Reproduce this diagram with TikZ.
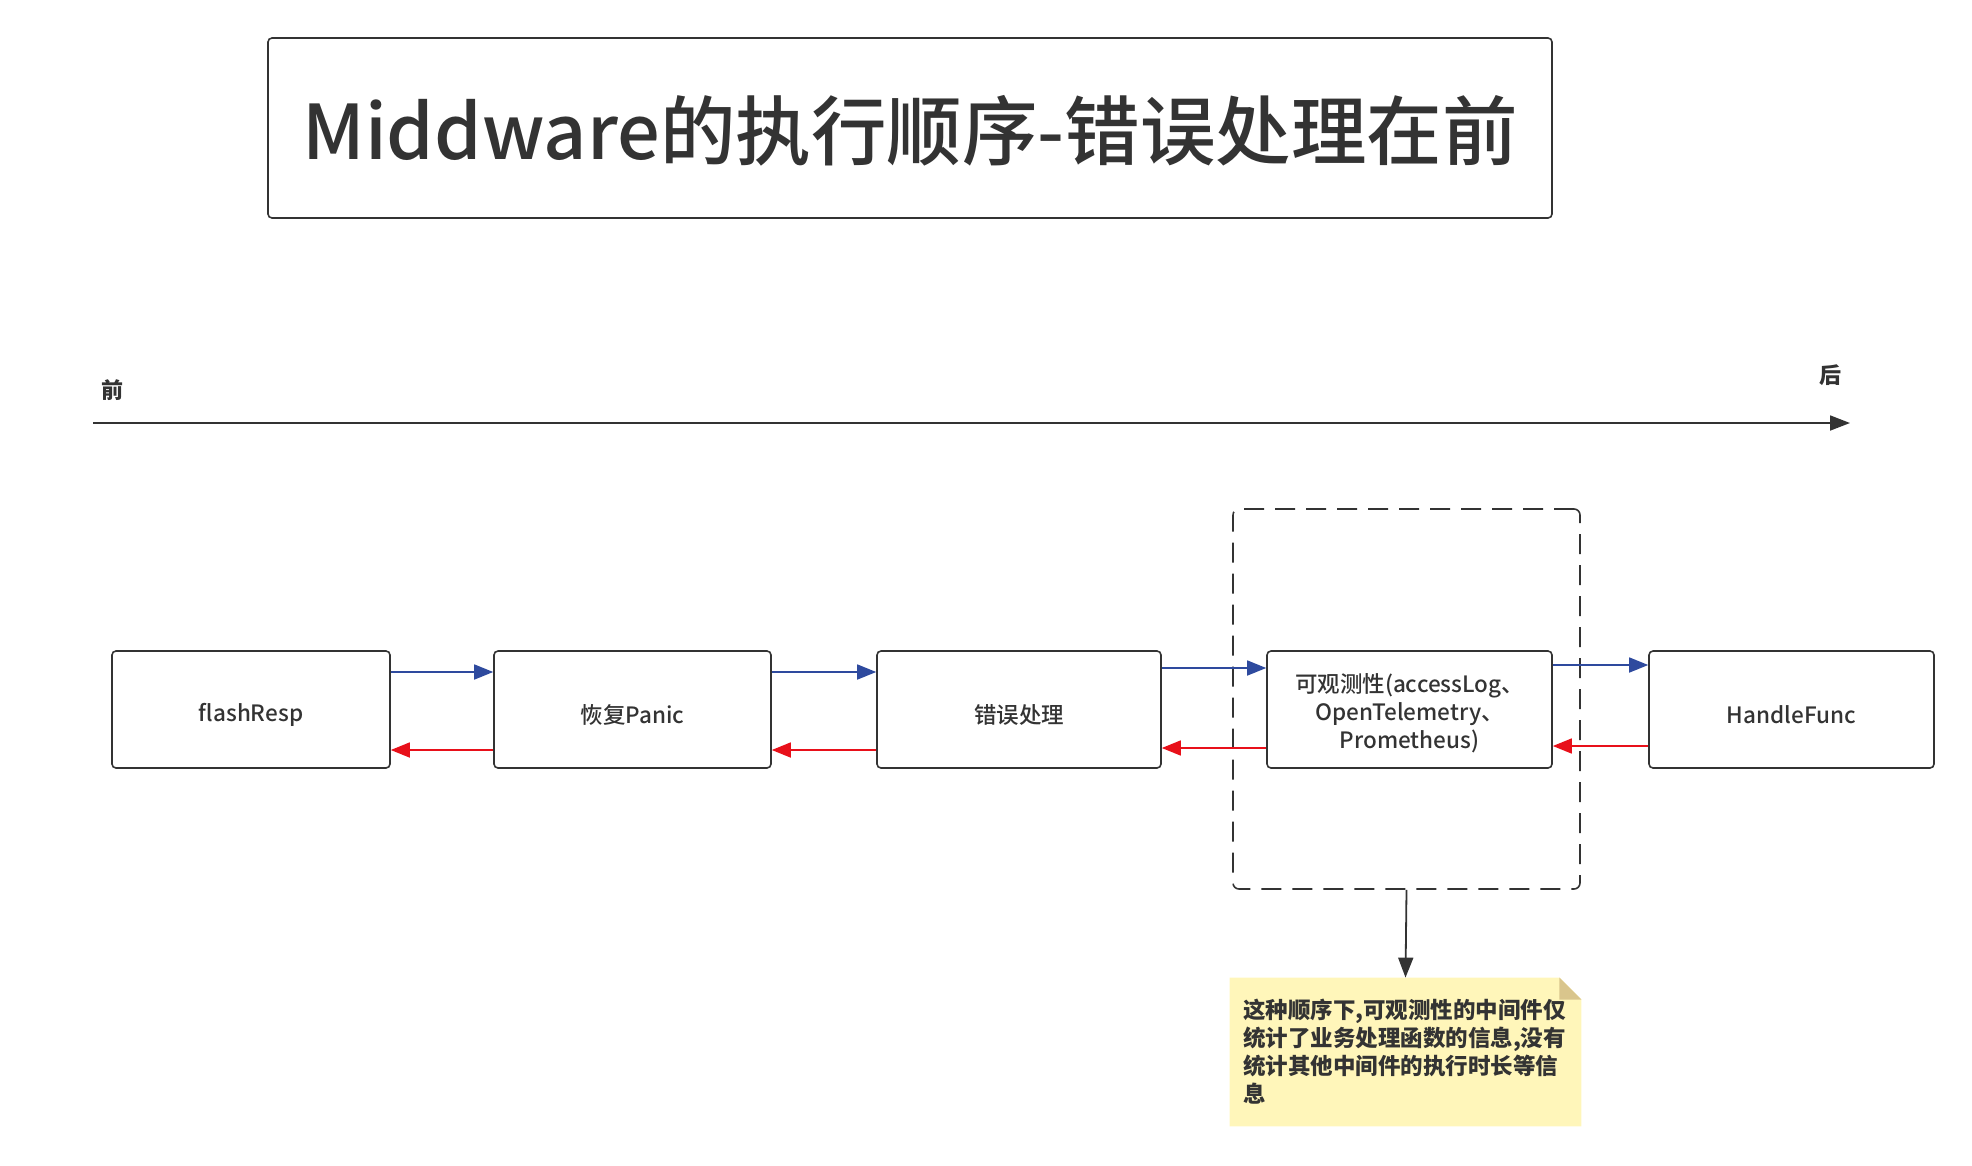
\documentclass[tikz,border=0pt]{standalone}
\usepackage{fontspec}
\setmainfont{Noto Sans CJK SC}
\newfontfamily\mediumfont{Noto Sans CJK SC Medium}
\usetikzlibrary{arrows.meta,backgrounds}
\definecolor{inkgray}{HTML}{333333}
\definecolor{fwdblue}{HTML}{2E4A9E}
\definecolor{backred}{HTML}{E8101A}
\definecolor{notefill}{HTML}{FFF6BA}
\definecolor{notefold}{HTML}{D9C58C}
\newcommand{\dropby}[2]{\raisebox{-#1}[\height][\depth]{#2}}

\begin{document}
\begin{tikzpicture}[x=1pt,y=-1pt,style=thick]
\tikzstyle{stage}=[draw=inkgray, line width=1.6pt, rounded corners=4pt, minimum height=117pt, text=inkgray, font=\mediumfont\fontsize{22.5}{28}\selectfont, align=center]
\tikzstyle{fwd}=[fwdblue, line width=1.6pt, -{Triangle[length=19pt,width=15pt]}]
\tikzstyle{back}=[backred, line width=1.6pt, -{Triangle[length=19pt,width=15pt]}]
\tikzstyle{plain}=[inkgray, line width=1.8pt, -{Triangle[length=20pt,width=15pt]}]

\useasboundingbox (0,0) rectangle (1972,1165);

% title
\node[draw=inkgray, line width=1.6pt, rounded corners=4pt, minimum width=1284pt, minimum height=180pt, text=inkgray, font=\mediumfont\fontsize{75.5}{80}\selectfont] (title) at (910,128) {\dropby{3pt}{Middware的执行顺序-错误处理在前}};

% time axis
\coordinate (axisstart) at (93,423);
\coordinate (axisend) at (1850,423);
\draw[plain] (axisstart) -- (axisend);
\node[text=inkgray, font=\fontsize{22}{24}\selectfont\bfseries] (before) at (112,390) {前};
\node[text=inkgray, font=\fontsize{22}{24}\selectfont\bfseries] (after) at (1830,375) {后};

% group round the observability middleware
\node[draw=inkgray, line width=1.6pt, dash pattern=on 20pt off 11pt, rounded corners=6pt, minimum width=347pt, minimum height=380pt] (group) at (1406.5,699) {};

% middlewares
\node[stage, minimum width=278pt] (A) at (251,709.5) {\dropby{5pt}{flashResp}};
\node[stage, minimum width=277pt] (B) at (632.5,709.5) {\dropby{5pt}{恢复Panic}};
\node[stage, minimum width=284pt] (C) at (1019,709.5) {\dropby{5pt}{错误处理}};
\node[stage, minimum width=285pt] (D) at (1409.5,709.5) {\dropby{5pt}{\begin{tabular}{@{}c@{}}可观测性(accessLog、\\OpenTelemetry、\\Prometheus)\end{tabular}}};
\node[stage, minimum width=285pt] (E) at (1791.5,709.5) {\dropby{5pt}{HandleFunc}};

\draw[fwd] ([yshift=37.5pt]A.east) -- ([yshift=37.5pt]B.west);
\draw[fwd] ([yshift=37.5pt]B.east) -- ([yshift=37.5pt]C.west);
\draw[fwd] ([yshift=41.5pt]C.east) -- ([yshift=41.5pt]D.west);
\draw[fwd] ([yshift=44.5pt]D.east) -- ([yshift=44.5pt]E.west);

\draw[back] ([yshift=-40.5pt]B.west) -- ([yshift=-40.5pt]A.east);
\draw[back] ([yshift=-40.5pt]C.west) -- ([yshift=-40.5pt]B.east);
\draw[back] ([yshift=-38.5pt]D.west) -- ([yshift=-38.5pt]C.east);
\draw[back] ([yshift=-36.5pt]E.west) -- ([yshift=-36.5pt]D.east);

% note
\node[minimum width=351pt, minimum height=148pt, text width=325pt, align=left, inner sep=0pt, text=inkgray, font=\fontsize{22.5}{28}\selectfont\bfseries] (note) at (1405.5,1052) {这种顺序下,可观测性的中间件仅\\统计了业务处理函数的信息,没有\\统计其他中间件的执行时长等信\\息};
\begin{scope}[on background layer]
\fill[notefill] (note.north west) -- ([xshift=-22pt]note.north east) -- ([yshift=-22pt]note.north east) -- (note.south east) -- (note.south west) -- cycle;
\fill[notefold] ([xshift=-22pt]note.north east) -- ([yshift=-22pt]note.north east) -- ([xshift=-22pt,yshift=-22pt]note.north east) -- cycle;
\end{scope}

\draw[plain] (group.south) -- (note.north);
\end{tikzpicture}
\end{document}
